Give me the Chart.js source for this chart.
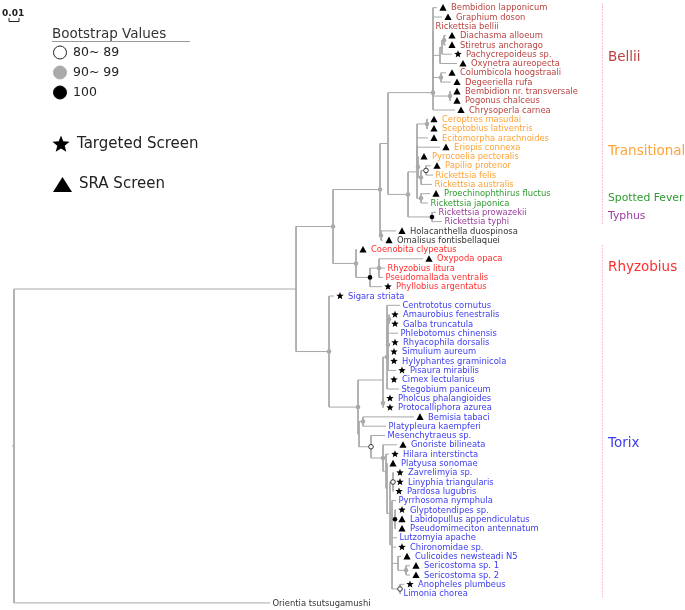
<!DOCTYPE html>
<html>
<head>
<meta charset="utf-8">
<script src="https://cdn.jsdelivr.net/npm/chart.js@4.4.0/dist/chart.umd.min.js"></script>
<style>
  html, body { margin: 0; padding: 0; background: #fff; }
  #wrap { width: 685px; height: 610px; }
</style>
</head>
<body>
<div id="wrap"><canvas id="tree" width="685" height="610"></canvas></div>
<script>
// tips, top to bottom (row = index + 1)
const leafNames = [
  'Bembidion lapponicum', 'Graphium doson', 'Rickettsia bellii', 'Diachasma alloeum',
  'Stiretrus anchorago', 'Pachycrepoideus sp.', 'Oxynetra aureopecta', 'Columbicola hoogstraali',
  'Degeeriella rufa', 'Bembidion nr. transversale', 'Pogonus chalceus', 'Chrysoperla carnea',
  'Ceroptres masudai', 'Sceptobius lativentris', 'Ecitomorpha arachnoides', 'Eriopis connexa',
  'Pyrocoelia pectoralis', 'Papilio protenor', 'Rickettsia felis', 'Rickettsia australis',
  'Proechinophthirus fluctus', 'Rickettsia japonica', 'Rickettsia prowazekii', 'Rickettsia typhi',
  'Holacanthella duospinosa', 'Omalisus fontisbellaquei', 'Coenobita clypeatus', 'Oxypoda opaca',
  'Rhyzobius litura', 'Pseudomallada ventralis', 'Phyllobius argentatus', 'Sigara striata',
  'Centrototus cornutus', 'Amaurobius fenestralis', 'Galba truncatula', 'Phlebotomus chinensis',
  'Rhyacophila dorsalis', 'Simulium aureum', 'Hylyphantes graminicola', 'Pisaura mirabilis',
  'Cimex lectularius', 'Stegobium paniceum', 'Pholcus phalangioides', 'Protocalliphora azurea',
  'Bemisia tabaci', 'Platypleura kaempferi', 'Mesenchytraeus sp.', 'Gnoriste bilineata',
  'Hilara interstincta', 'Platyusa sonomae', 'Zavrelimyia sp.', 'Linyphia triangularis',
  'Pardosa lugubris', 'Pyrrhosoma nymphula', 'Glyptotendipes sp.', 'Labidopullus appendiculatus',
  'Pseudomimeciton antennatum', 'Lutzomyia apache', 'Chironomidae sp.', 'Culicoides newsteadi N5',
  'Sericostoma sp. 1', 'Sericostoma sp. 2', 'Anopheles plumbeus', 'Limonia chorea',
  'Orientia tsutsugamushi'
];
// B bellii, T transitional, S spotted fever, Y typhus, O other, R rhyzobius, X torix (10 per chunk)
const leafGroup = ('BBBBBBBBBB' + 'BBTTTTTTTT' + 'SSYYOORRRR' + 'RXXXXXXXXX' +
  'XXXXXXXXXX' + 'XXXXXXXXXX' + 'XXXXO').split('');
// t = SRA screen (triangle), s = targeted screen (star), - = none (10 per chunk)
const leafMark = ('tt-ttstttt' + 'tttttttt--' + 't---tttt--' + 'ss-ss-ssss' +
  's-sst--tst' + 'sss-stt-st' + 'tts--').split('');
// branch tip distance from root (substitutions / site)
const leafTip = [
  0.423, 0.428, 0.419, 0.432, 0.432, 0.438, 0.443, 0.432, 0.437, 0.437, 0.437, 0.441,
  0.414, 0.414, 0.414, 0.426, 0.404, 0.417, 0.419, 0.418, 0.416, 0.414, 0.422, 0.428,
  0.382, 0.369, 0.343, 0.409, 0.371, 0.369, 0.368, 0.320, 0.386, 0.375, 0.375, 0.384,
  0.375, 0.374, 0.374, 0.382, 0.374, 0.385, 0.370, 0.370, 0.400, 0.372, 0.371, 0.383,
  0.375, 0.373, 0.380, 0.380, 0.379, 0.382, 0.382, 0.382, 0.382, 0.383, 0.382, 0.387,
  0.396, 0.396, 0.390, 0.387, 0.256
];

// internal nodes: children are tip rows (numbers) or node names
const nodeNames = ['root', 'in', 'C', 'B', 'X', 'BE4', 'BE3', 'BE2', 'BE1', 'DG', 'DSP', 'DS', 'CD', 'BPo',
  'TS', 'TT', 'Q', 'PY', 'CS', 'PFA', 'PF', 'SFG', 'TY', 'HO', 'R', 'R2', 'R3',
  'T', 'S1', 'S2', 'S4', 'S5', 'S6', 'AG', 'PP', 'S3', 'BPn', 'M', 'G', 'H', 'P', 'Z',
  'ZLP', 'Z2', 'ZG', 'ZC', 'SS', 'ZA'];
const nodeX = [0.000, 0.282, 0.319, 0.366, 0.374, 0.419, 0.419, 0.419, 0.419, 0.426, 0.428, 0.430, 0.427, 0.436,
  0.394, 0.403, 0.403, 0.404, 0.413, 0.407, 0.412, 0.407, 0.418, 0.367, 0.342, 0.356, 0.365,
  0.315, 0.344, 0.369, 0.373, 0.373, 0.374, 0.375, 0.369, 0.345, 0.349, 0.357, 0.369, 0.372, 0.373, 0.376,
  0.379, 0.378, 0.381, 0.384, 0.392, 0.386];
const nodeKids = [
  ['in', 65], ['C', 'T'], ['B', 'R'], ['X', 'HO'], ['BE4', 'TS'],
  ['BE3', 12], ['BE2', 'BPo'], ['BE1', 'CD'], [1, 2, 3, 'DG'], ['DSP', 7], ['DS', 6], [4, 5], [8, 9], [10, 11],
  ['TT', 'TY'], ['Q', 'SFG'], ['CS', 15, 16, 'PY'], [17, 'PFA'], [13, 14], ['PF', 20], [18, 19], [21, 22], [23, 24],
  [25, 26], [27, 'R2'], ['R3', 31], [28, 29, 30],
  [32, 'S1'], ['S2', 'S3'], ['S4', 'PP'], ['S5', 41, 42], [33, 'S6'], ['AG', 36, 37, 38, 39, 40], [34, 35], [43, 44],
  ['BPn', 'M'], [45, 46], [47, 'G'], [48, 'H'], [49, 'P'], [50, 'Z'], ['ZLP', 'Z2'],
  [51, 52, 53], [54, 'ZG', 58, 59, 'ZC', 'ZA'], [55, 56, 57], [60, 'SS'], [61, 62], [63, 64]
];
const nodeSupport = [0, 0, 95, 95, 0, 95, 0, 0, 0, 0, 0, 95, 95, 95,
  95, 0, 0, 95, 95, 95, 85, 95, 100, 95, 95, 100, 95,
  95, 95, 0, 95, 0, 95, 95, 95, 0, 95, 85, 95, 0, 0, 0,
  85, 0, 100, 0, 95, 85];

const cladeLabels = ['Bellii', 'Transitional', 'Spotted Fever', 'Typhus', 'Rhyzobius', 'Torix'];
const cladeGroups = ['B', 'T', 'S', 'Y', 'R', 'X'];
const cladeRows = [6.4, 16.5, 21.5, 23.4, 28.9, 47.9];
const cladeBars = [[0.5, 24.4], [26.5, 64.4]];

const groupColors = { B: '#b8423f', T: '#ffa336', S: '#2f9a2f', Y: '#9a3c9e', O: '#333333', R: '#ff2e2e', X: '#3c3cf0' };

// ---- layout: node row = midpoint of first and last child ----
const nodeIndex = {};
nodeNames.forEach((n, i) => { nodeIndex[n] = i; });
const nodeY = [];
function yOf(k) { return typeof k === 'number' ? k : layoutNode(nodeIndex[k]); }
function xOf(k) { return typeof k === 'number' ? leafTip[k - 1] : nodeX[nodeIndex[k]]; }
function layoutNode(i) {
  if (nodeY[i] === undefined) {
    const ys = nodeKids[i].map(yOf);
    nodeY[i] = (ys[0] + ys[ys.length - 1]) / 2;
  }
  return nodeY[i];
}
nodeNames.forEach((n, i) => layoutNode(i));

const branchPts = [];
function seg(x1, y1, x2, y2) {
  branchPts.push({ x: x1, y: y1 }, { x: x2, y: y2 }, { x: null, y: null });
}
nodeNames.forEach((n, i) => {
  const ys = nodeKids[i].map(yOf);
  seg(nodeX[i], ys[0], nodeX[i], ys[ys.length - 1]);
  nodeKids[i].forEach((k, j) => seg(nodeX[i], ys[j], xOf(k), ys[j]));
});
seg(-0.002, nodeY[0], 0, nodeY[0]);

const dotsOpen = [], dotsGray = [], dotsBlack = [];
nodeNames.forEach((n, i) => {
  const s = nodeSupport[i];
  const p = { x: nodeX[i], y: nodeY[i] };
  if (s >= 100) dotsBlack.push(p);
  else if (s >= 90) dotsGray.push(p);
  else if (s >= 80) dotsOpen.push(p);
});

function starPath(ctx, cx, cy, ro, ri) {
  ctx.beginPath();
  for (let i = 0; i < 10; i++) {
    const r = i % 2 ? ri : ro;
    const a = -Math.PI / 2 + i * Math.PI / 5;
    ctx.lineTo(cx + r * Math.cos(a), cy + r * Math.sin(a));
  }
  ctx.closePath();
}
function triPath(ctx, cx, cy, hw, h) {
  ctx.beginPath();
  ctx.moveTo(cx - hw, cy + h / 2);
  ctx.lineTo(cx + hw, cy + h / 2);
  ctx.lineTo(cx, cy - h / 2);
  ctx.closePath();
}

const treeDecor = {
  id: 'treeDecor',
  afterDatasetsDraw(chart) {
    const ctx = chart.ctx;
    const xs = chart.scales.x, ys = chart.scales.y;
    ctx.save();

    // tip markers and labels
    ctx.font = '8.4px "DejaVu Sans"';
    ctx.textBaseline = 'middle';
    leafNames.forEach((name, i) => {
      const px = xs.getPixelForValue(leafTip[i]);
      const py = ys.getPixelForValue(i + 1);
      const m = leafMark[i];
      ctx.fillStyle = '#000';
      if (m === 't') { triPath(ctx, px + 6, py - 0.3, 3.6, 6.6); ctx.fill(); }
      if (m === 's') { starPath(ctx, px + 6, py, 3.9, 1.7); ctx.fill(); }
      ctx.fillStyle = groupColors[leafGroup[i]];
      ctx.fillText(name, px + (m === '-' ? 2.5 : 14), py + 0.5);
    });

    // clade bars and labels
    ctx.strokeStyle = 'rgba(245, 140, 165, 0.55)';
    ctx.lineWidth = 1;
    ctx.setLineDash([2, 1]);
    const barX = Math.round(xs.getPixelForValue(0.588)) + 0.5;
    cladeBars.forEach(b => {
      ctx.beginPath();
      ctx.moveTo(barX, ys.getPixelForValue(b[0]));
      ctx.lineTo(barX, ys.getPixelForValue(b[1]));
      ctx.stroke();
    });
    ctx.setLineDash([]);
    cladeLabels.forEach((t, i) => {
      const small = cladeGroups[i] === 'S' || cladeGroups[i] === 'Y';
      ctx.font = (small ? '10.8px' : '13.5px') + ' "DejaVu Sans"';
      ctx.fillStyle = groupColors[cladeGroups[i]];
      ctx.fillText(t, xs.getPixelForValue(0.594), ys.getPixelForValue(cladeRows[i]));
    });

    // scale bar
    ctx.fillStyle = '#222';
    ctx.font = 'bold 9px "DejaVu Sans"';
    ctx.textBaseline = 'alphabetic';
    ctx.fillText('0.01', 2, 16);
    const s0 = xs.getPixelForValue(-0.005), s1 = xs.getPixelForValue(0.005);
    ctx.strokeStyle = '#222';
    ctx.beginPath();
    ctx.moveTo(s0, 18); ctx.lineTo(s0, 21.5); ctx.lineTo(s1, 21.5); ctx.lineTo(s1, 18);
    ctx.stroke();

    // legend
    ctx.fillStyle = '#333';
    ctx.font = '13.5px "DejaVu Sans"';
    ctx.fillText('Bootstrap Values', 52, 38);
    ctx.strokeStyle = '#999';
    ctx.beginPath(); ctx.moveTo(52, 41.5); ctx.lineTo(190, 41.5); ctx.stroke();
    const rows = [['80~ 89', '#fff', '#222'], ['90~ 99', '#aaa', '#aaa'], ['100', '#000', '#000']];
    ctx.textBaseline = 'middle';
    ctx.font = '12.5px "DejaVu Sans"';
    rows.forEach((r, i) => {
      const cy = 52.5 + i * 20;
      ctx.beginPath(); ctx.arc(60, cy, 6.5, 0, Math.PI * 2);
      ctx.fillStyle = r[1]; ctx.fill();
      ctx.strokeStyle = r[2]; ctx.stroke();
      ctx.fillStyle = '#222';
      ctx.fillText(r[0], 73, cy + 0.5);
    });
    ctx.fillStyle = '#000';
    starPath(ctx, 61, 144.5, 9, 3.9); ctx.fill();
    triPath(ctx, 62.5, 184.5, 9.5, 15); ctx.fill();
    ctx.fillStyle = '#222';
    ctx.font = '15px "DejaVu Sans"';
    ctx.fillText('Targeted Screen', 77, 144);
    ctx.fillText('SRA Screen', 79, 184.5);
    ctx.restore();
  }
};

new Chart(document.getElementById('tree'), {
  type: 'scatter',
  data: {
    datasets: [
      { data: dotsOpen, pointRadius: 2.3, pointBackgroundColor: '#fff', pointBorderColor: '#333', pointBorderWidth: 1, order: 1 },
      { data: dotsGray, pointRadius: 2.3, pointBackgroundColor: '#aaa', pointBorderColor: '#aaa', pointBorderWidth: 0, order: 1 },
      { data: dotsBlack, pointRadius: 2.3, pointBackgroundColor: '#000', pointBorderColor: '#000', pointBorderWidth: 0, order: 1 },
      { data: branchPts, showLine: true, pointRadius: 0, borderColor: '#a8a8a8', borderWidth: 1, spanGaps: false, order: 3 }
    ]
  },
  options: {
    responsive: false,
    animation: false,
    events: [],
    layout: { padding: 0, autoPadding: false },
    scales: {
      x: { type: 'linear', min: -0.014, max: 0.671, display: false },
      y: { type: 'linear', min: 0.172, max: 65.763, reverse: true, display: false }
    },
    plugins: { legend: { display: false }, tooltip: { enabled: false } }
  },
  plugins: [treeDecor]
});
</script>
</body>
</html>
